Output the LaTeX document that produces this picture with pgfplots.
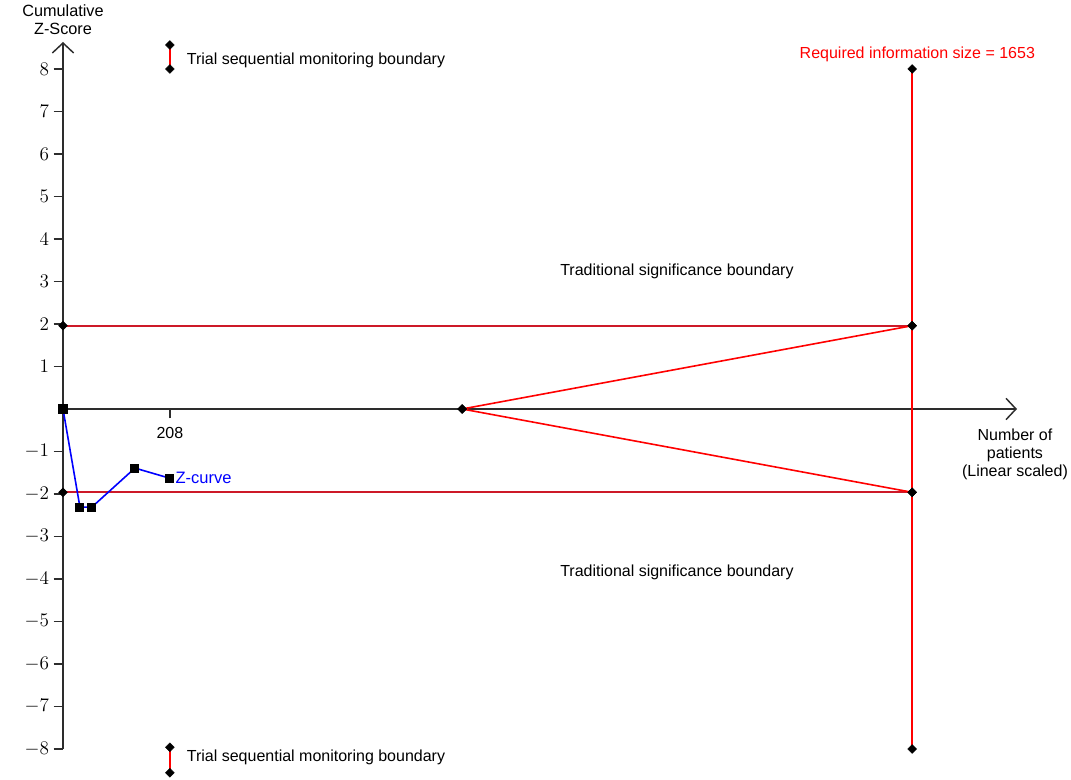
\documentclass[border=0pt]{standalone}
\usepackage{fontspec}
\setmainfont{Liberation Sans}
\usepackage{pgfplots}
\pgfplotsset{compat=1.18}
\usetikzlibrary{arrows.meta}
\definecolor{tsared}{RGB}{255,0,0}
\definecolor{convred}{RGB}{205,25,40}
\definecolor{zblue}{RGB}{0,0,255}
\definecolor{axisgray}{RGB}{45,45,45}
\pgfplotsset{
  dia/.style={mark=square*, mark size=2.3pt, mark options={black, fill=black, rotate=45, line width=0.4pt}},
}

\begin{document}
\begin{tikzpicture}
\begin{axis}[
  scale only axis, width=715.5pt, height=530.25pt,
  xmin=0, xmax=1857, ymin=-8, ymax=8.635,
  axis x line=middle, axis y line=left,
  clip=false,
  every inner x axis line/.style={-{Straight Barb[length=7.5pt,width=16pt]}},
  every outer y axis line/.style={-{Straight Barb[length=7.5pt,width=16pt]}},
  axis line style={line width=1.1pt, draw=axisgray},
  xtick={208}, xticklabels={208},
  ytick={-8,-7,-6,-5,-4,-3,-2,-1,1,2,3,4,5,6,7,8},
  tick align=outside, major tick length=7pt,
  tick style={line width=1pt, draw=axisgray},
  yticklabel style={font=\fontsize{13.5}{14}\selectfont, xshift=0pt},
  xticklabel style={font=\fontsize{12}{13}\selectfont, yshift=-3pt},
]
% conventional boundaries
\addplot[draw=convred, line width=1.4pt, dia] coordinates {(0,1.96) (1653,1.96)};
\addplot[draw=convred, line width=1.4pt, dia] coordinates {(0,-1.96) (1653,-1.96)};
% futility wedge
\addplot[draw=tsared, line width=1.2pt, dia] coordinates {(777,0) (1653,1.96)};
\addplot[draw=tsared, line width=1.2pt, dia] coordinates {(777,0) (1653,-1.96)};
% required information size
\addplot[draw=tsared, line width=1.2pt, dia] coordinates {(1653,-8) (1653,8)};
% legend glyphs
\addplot[draw=tsared, line width=1.1pt, dia] coordinates {(208,8.0) (208,8.565)};
\addplot[draw=tsared, line width=1.1pt, dia] coordinates {(208,-7.96) (208,-8.56)};
% Z-curve
\addplot[draw=zblue, line width=1.2pt, mark=square*, mark options={black, fill=black}, mark size=2.8pt] coordinates {
  (0,0) (33,-2.31) (56,-2.31) (140,-1.39) (208,-1.63)};

\node[font=\fontsize{12}{14}\selectfont, anchor=west] at (axis cs:232,8.21) {Trial sequential monitoring boundary};
\node[font=\fontsize{12}{14}\selectfont, anchor=west] at (axis cs:232,-8.19) {Trial sequential monitoring boundary};
\node[font=\fontsize{12}{14}\selectfont] at (axis cs:1195,3.25) {Traditional significance boundary};
\node[font=\fontsize{12}{14}\selectfont] at (axis cs:1195,-3.84) {Traditional significance boundary};
\node[font=\fontsize{12}{14}\selectfont, text=tsared] at (axis cs:1663,8.35) {Required information size = 1653};
\node[font=\fontsize{12.4}{14}\selectfont, text=zblue, anchor=west] at (axis cs:210,-1.61) {Z-curve};
\node[font=\fontsize{12.2}{13.5}\selectfont, align=center, anchor=south] at (axis cs:0,8.70) {Cumulative\\Z-Score};
\node[font=\fontsize{12}{13.5}\selectfont, align=center, anchor=north] at (axis cs:1853,-0.36) {Number of\\patients\\(Linear scaled)};
\end{axis}
\pgfresetboundingbox
\path[use as bounding box] (-47.25pt,-22.5pt) rectangle (756pt,561.75pt);
\end{tikzpicture}
\end{document}
